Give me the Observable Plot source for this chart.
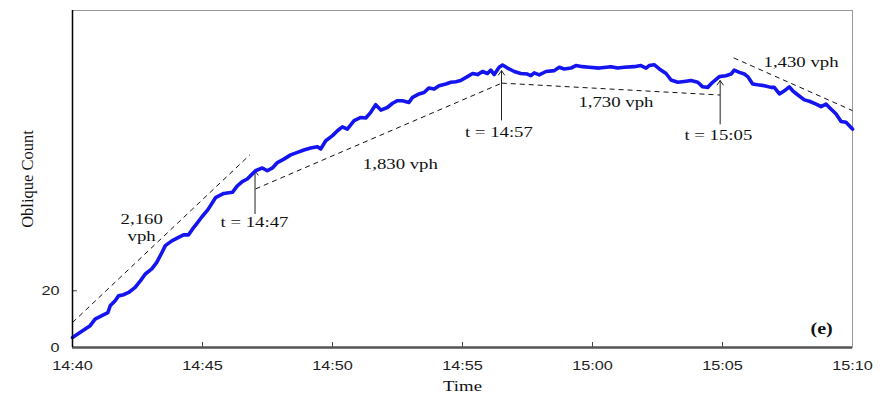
<!DOCTYPE html>
<html>
<head>
<meta charset="utf-8">
<script src="https://cdn.jsdelivr.net/npm/d3@7"></script>
<script src="https://cdn.jsdelivr.net/npm/@observablehq/plot@0.6"></script>
<style>
  html, body { margin: 0; padding: 0; background: #fff; }
</style>
</head>
<body>
<div id="chart"></div>
<script>
// minutes after 14:40 and oblique counts
const minutes = [0,0.23,0.49,0.68,0.87,1.13,1.36,1.45,1.64,1.77,1.96,2.16,2.41,2.61,2.80,3.05,3.24,3.44,3.57,3.82,4.08,4.27,4.46,4.62,4.78,4.98,5.21,5.50,5.82,6.15,6.34,6.53,6.72,6.92,7.04,7.30,7.49,7.69,7.88,8.13,8.39,8.65,8.90,9.16,9.42,9.55,9.74,10.0,10.19,10.38,10.57,10.83,11.09,11.28,11.47,11.66,11.86,12.11,12.31,12.50,12.69,12.94,13.08,13.33,13.52,13.71,13.91,14.10,14.36,14.55,14.74,14.93,15.19,15.39,15.58,15.77,15.96,16.09,16.22,16.41,16.54,16.73,16.99,17.24,17.50,17.63,17.76,17.95,18.21,18.53,18.72,18.91,19.17,19.36,19.62,19.87,20.26,20.71,20.97,21.22,21.60,21.86,22.06,22.18,22.37,22.57,22.83,23.02,23.28,23.53,23.79,24.05,24.24,24.43,24.62,24.88,25.13,25.33,25.45,25.65,25.84,25.97,26.16,26.35,26.61,26.87,26.99,27.19,27.38,27.57,27.70,27.89,28.15,28.34,28.60,28.79,28.98,29.17,29.37,29.56,29.75,30.0];
const counts = [3.5,4.9,6.5,7.7,10.0,11.2,12.3,14.7,16.5,18.2,18.6,19.4,21.2,23.5,25.9,27.7,30.0,33.5,35.9,37.6,38.8,39.7,39.7,41.8,43.7,46.1,48.6,52.8,54.3,54.7,57.0,58.5,59.4,61.2,62.3,63.3,62.3,63.3,65.2,66.4,67.9,68.8,69.6,70.3,70.8,70.0,72.9,74.7,76.4,77.8,77.0,80.0,81.1,80.9,82.9,85.6,83.7,84.6,86.1,87.0,87.0,86.4,88.2,89.4,89.9,91.5,91.1,92.3,92.9,93.5,93.7,94.1,95.5,96.6,96.2,97.3,96.6,97.8,96.2,98.8,99.6,98.5,97.3,96.6,96.4,95.8,96.8,96.1,97.3,97.6,98.8,98.2,98.5,99.4,99.0,98.8,98.5,99.0,98.5,98.8,99.0,99.4,98.5,99.4,99.7,98.2,96.6,94.3,93.5,93.8,94.1,93.5,91.9,91.7,93.5,95.5,95.8,96.4,97.8,97.0,96.4,95.5,92.9,92.6,92.3,91.7,91.7,89.4,90.5,91.9,90.5,89.1,87.3,86.8,85.8,84.9,85.8,84.1,82.3,79.7,79.4,77.0];

// dashed flow-rate lines (start minute, start count, end minute, end count)
const rateStartMin = [0, 7.04, 16.51, 25.43];
const rateStartCount = [8.8, 55.9, 93.2, 102.1];
const rateEndMin = [6.82, 16.51, 24.91, 30.0];
const rateEndCount = [67.9, 93.2, 89.0, 83.5];

// arrows
const arrowMin = [7.02, 16.5, 24.91];
const arrowFrom = [47.2, 80.2, 78.8];
const arrowTo = [62.3, 97.6, 94.1];

// annotation labels
const labelText = ["2,160", "vph", "t = 14:47", "1,830 vph", "t = 14:57", "1,730 vph", "t = 15:05", "1,430 vph"];
const labelMin = [2.66, 2.66, 7.0, 12.61, 16.40, 20.9, 24.84, 28.02];
const labelCount = [45.4, 39.4, 44.0, 64.7, 75.8, 86.5, 74.7, 100.5];

const panelLabel = "(e)";
const xTitle = "Time";
const yTitle = "Oblique Count";
const yTicks = [0, 20];

const base = new Date(2000, 0, 1, 14, 40, 0);
const toDate = m => new Date(base.getTime() + m * 60000);

const series = minutes.map((m, i) => ({t: toDate(m), v: counts[i]}));
const rates = rateStartMin.map((m, i) => ({x1: toDate(m), y1: rateStartCount[i], x2: toDate(rateEndMin[i]), y2: rateEndCount[i]}));
const arrows = arrowMin.map((m, i) => ({x: toDate(m), y1: arrowFrom[i], y2: arrowTo[i]}));
const labels = labelText.map((s, i) => ({text: s, t: toDate(labelMin[i]), v: labelCount[i]}));
const xTicks = d3.range(0, 31, 5).map(toDate);

const W = 883, H = 393;
const mL = 72, mR = 31, mT = 10, mB = 46;
const frameH = H - mT - mB, frameW = W - mL - mR;

const serif = "'Liberation Serif', 'Times New Roman', serif";
const sans = "'Liberation Sans', Arial, sans-serif";

const chart = Plot.plot({
  width: W, height: H,
  marginLeft: mL, marginRight: mR, marginTop: mT, marginBottom: mB,
  x: {type: "time", domain: [toDate(0), toDate(30)]},
  y: {domain: [0, 118.8]},
  marks: [
    Plot.frame({stroke: "#999", strokeWidth: 1}),
    // inward x ticks
    Plot.ruleX(xTicks.slice(1, -1), {stroke: "#444", strokeWidth: 1, insetTop: frameH - 5}),
    // inward y tick at 20
    Plot.ruleY([20], {stroke: "#444", strokeWidth: 1, insetRight: frameW - 5}),
    Plot.axisX({ticks: xTicks, tickFormat: d3.timeFormat("%H:%M"), tickSize: 0, tickPadding: 13, fontSize: 13, fontFamily: sans, label: null, fill: "#222"}),
    Plot.axisY({ticks: yTicks, tickSize: 0, tickPadding: 13, fontSize: 13, fontFamily: sans, label: null, fill: "#222"}),
    Plot.text([yTitle], {frameAnchor: "left", textAnchor: "middle", lineAnchor: "middle", rotate: -90, dx: -45, fontSize: 16.5, fontFamily: serif, fill: "#111"}),
    Plot.text([xTitle], {frameAnchor: "bottom", textAnchor: "middle", lineAnchor: "middle", dy: 38.5, fontSize: 15, fontFamily: serif, fill: "#111"}),
    // dashed rate lines
    Plot.link(rates, {x1: "x1", y1: "y1", x2: "x2", y2: "y2", stroke: "#111", strokeWidth: 1, strokeDasharray: "5,4"}),
    // arrows
    Plot.arrow(arrows, {x: "x", y1: "y1", y2: "y2", stroke: "#222", strokeWidth: 1, headLength: 8, headAngle: 70}),
    // data line
    Plot.line(series, {x: "t", y: "v", stroke: "#1414f0", strokeWidth: 3.6, strokeLinejoin: "round", strokeLinecap: "round"}),
    // labels
    Plot.text(labels, {x: "t", y: "v", text: "text", fontSize: 15, fontFamily: serif, fill: "#111"}),
    Plot.text([panelLabel], {x: toDate(28.81), y: 6.5, fontSize: 16, fontWeight: "bold", fontFamily: serif, fill: "#111"}),
    // axis lines
    Plot.ruleY([0], {stroke: "#555", strokeWidth: 2.5}),
    Plot.ruleX([toDate(0)], {stroke: "#000", strokeWidth: 1.5})
  ]
});

document.getElementById("chart").append(chart);

// The reference is horizontally stretched ~1.25x: widen horizontal texts.
chart.querySelectorAll("text").forEach(t => {
  const tr = t.getAttribute("transform") || "";
  if (tr.includes("rotate")) return;
  const w = t.getComputedTextLength();
  if (w > 0) {
    t.setAttribute("textLength", (w * 1.25).toFixed(1));
    t.setAttribute("lengthAdjust", "spacingAndGlyphs");
  }
});
</script>
</body>
</html>
